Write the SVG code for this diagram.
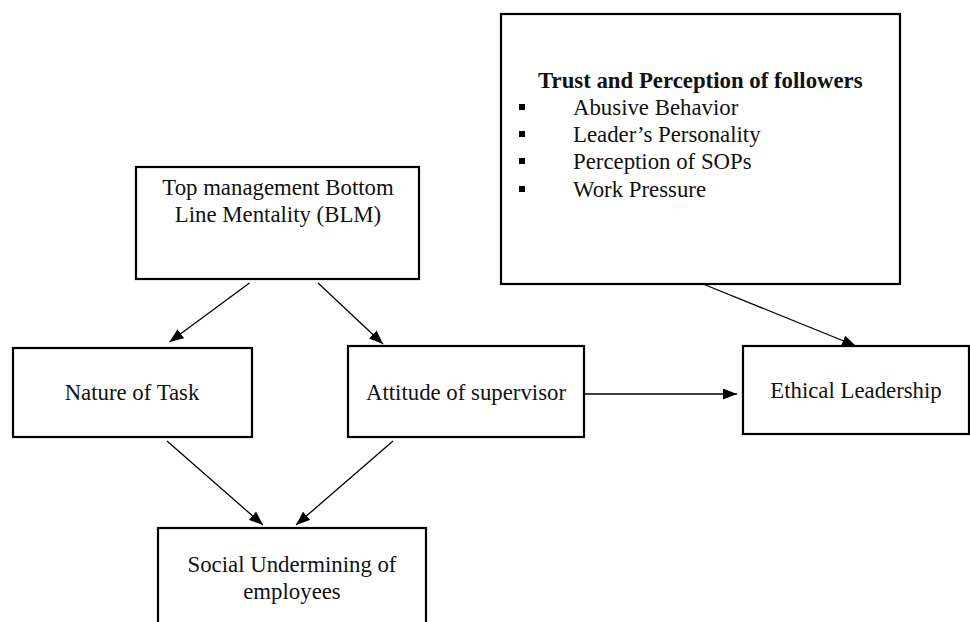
<svg xmlns="http://www.w3.org/2000/svg" width="970" height="622" viewBox="0 0 970 622">
<style>
.box{fill:#fff;stroke:#000;stroke-width:2.2}
.t{font-family:"Liberation Serif","Times New Roman",serif;font-size:22.8px;fill:#111}
.c{text-anchor:middle}
.b{font-weight:bold}
.e{stroke:#000;stroke-width:1.3;fill:none;marker-end:url(#ah)}
</style>
<defs>
<marker id="ah" viewBox="0 0 14 11" refX="14" refY="5.5" markerWidth="14" markerHeight="11" markerUnits="userSpaceOnUse" orient="auto">
<path d="M0,0 L14,5.5 L0,11 Z" fill="#000"/>
</marker>
</defs>
<rect width="970" height="622" fill="#fff"/>
<g id="trust">
<rect class="box" x="501" y="14" width="399" height="270"/>
<text class="t b" x="538" y="88">Trust and Perception of followers</text>
<rect x="519" y="104" width="6" height="6"/>
<rect x="519" y="131" width="6" height="6"/>
<rect x="519" y="158" width="6" height="6"/>
<rect x="519" y="186" width="6" height="6"/>
<text class="t" x="573" y="115">Abusive Behavior</text>
<text class="t" x="573" y="142">Leader’s Personality</text>
<text class="t" x="573" y="169">Perception of SOPs</text>
<text class="t" x="573" y="197">Work Pressure</text>
</g>
<g id="blm">
<rect class="box" x="136" y="167" width="283" height="112"/>
<text class="t c" x="278" y="195">Top management Bottom</text>
<text class="t c" x="278" y="222">Line Mentality (BLM)</text>
</g>
<g id="nature">
<rect class="box" x="13" y="348" width="239" height="89"/>
<text class="t c" x="132" y="400">Nature of Task</text>
</g>
<g id="attitude">
<rect class="box" x="348" y="346" width="236" height="91"/>
<text class="t c" x="466" y="400">Attitude of supervisor</text>
</g>
<g id="ethical">
<rect class="box" x="743" y="346" width="226" height="88"/>
<text class="t c" x="856" y="398">Ethical Leadership</text>
</g>
<g id="social">
<rect class="box" x="158" y="528" width="268" height="110"/>
<text class="t c" x="292" y="572">Social Undermining of</text>
<text class="t c" x="292" y="599">employees</text>
</g>
<g id="connectors">
<line class="e" x1="249.5" y1="283" x2="169.5" y2="342"/>
<line class="e" x1="318" y1="283" x2="383" y2="344"/>
<line class="e" x1="167" y1="441" x2="263" y2="525"/>
<line class="e" x1="393" y1="441" x2="296" y2="525"/>
<line class="e" x1="585" y1="394" x2="737" y2="394"/>
<line class="e" x1="703" y1="284" x2="856" y2="346"/>
</g>
</svg>
